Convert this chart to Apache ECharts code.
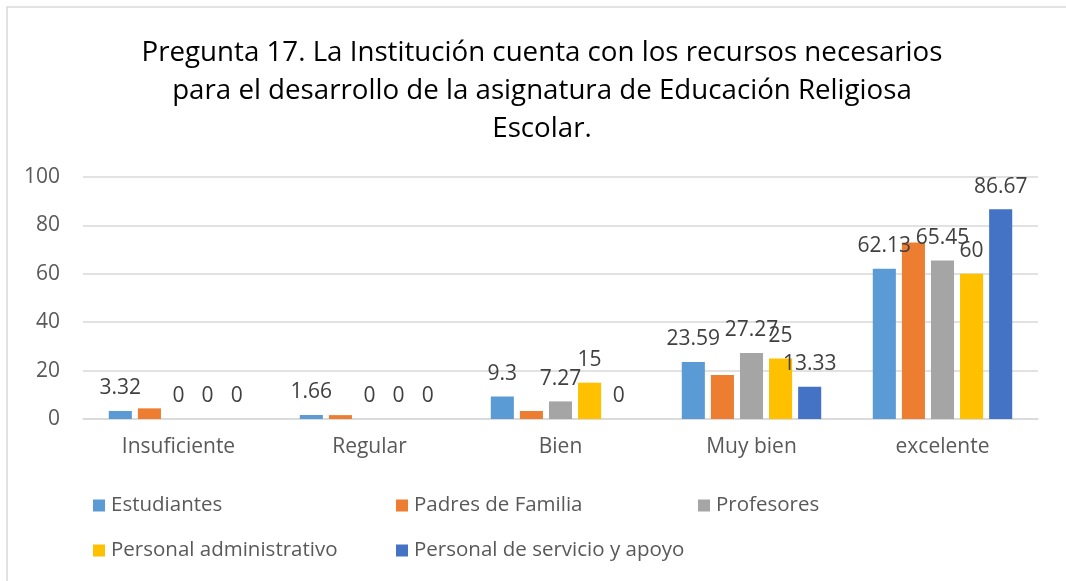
<!DOCTYPE html>
<html>
<head>
<meta charset="utf-8">
<script src="https://cdn.jsdelivr.net/npm/echarts@6/dist/echarts.min.js"></script>
<style>html,body{margin:0;padding:0;background:#fff}#c{width:1066px;height:581px}</style>
</head>
<body>
<div id="c"></div>
<script>
const categories = ['Insuficiente', 'Regular', 'Bien', 'Muy bien', 'excelente'];
const seriesNames = ['Estudiantes', 'Padres de Familia', 'Profesores', 'Personal administrativo', 'Personal de servicio y apoyo'];
const estudiantes = [3.32, 1.66, 9.3, 23.59, 62.13];
const padres = [4.4, 1.6, 3.3, 18.2, 72.9];
const profesores = [0, 0, 7.27, 27.27, 65.45];
const administrativo = [0, 0, 15, 25, 60];
const servicio = [0, 0, 0, 13.33, 86.67];
const yTicks = [0, 20, 40, 60, 80, 100];
const colors = ['#5B9BD5', '#ED7D31', '#A5A5A5', '#FFC000', '#4472C4'];
const showLabels = [true, false, true, true, true];
const values = [estudiantes, padres, profesores, administrativo, servicio];

const FONT = 'Open Sans';
const chart = echarts.init(document.getElementById('c'), null, {renderer: 'canvas'});

const legendPos = [
  {left: 88, top: 490}, {left: 391, top: 490}, {left: 693, top: 490},
  {left: 88, top: 535}, {left: 391, top: 535}
];

const option = {
  animation: false,
  color: colors,
  textStyle: {fontFamily: FONT},
  graphic: [{
    type: 'rect', shape: {x: 7, y: 7, width: 1070, height: 580},
    style: {fill: 'none', stroke: '#D9D9D9', lineWidth: 1.5}, silent: true
  }],
  title: {
    text: 'Pregunta 17. La Institución cuenta con los recursos necesarios\npara el desarrollo de la asignatura de Educación Religiosa\nEscolar.',
    left: 537, top: 29, textAlign: 'center',
    textStyle: {fontFamily: FONT, fontSize: 27.7, fontWeight: 'normal', color: '#000', lineHeight: 38}
  },
  legend: seriesNames.map((n, i) => ({
    data: [n], left: legendPos[i].left, top: legendPos[i].top,
    icon: 'rect', itemWidth: 12, itemHeight: 12, itemGap: 0,
    textStyle: {fontFamily: FONT, fontSize: 20.5, color: '#595959', padding: [0, 0, 0, 1]}
  })),
  grid: {left: 83, right: 28, top: 177, bottom: 162, containLabel: false},
  xAxis: {
    type: 'category', data: categories,
    axisLine: {lineStyle: {color: '#D9D9D9', width: 1.5}},
    axisTick: {show: false},
    axisLabel: {fontFamily: FONT, fontSize: 21, color: '#595959', margin: 18}
  },
  yAxis: {
    type: 'value', min: 0, max: 100, interval: 20,
    axisLine: {show: false}, axisTick: {show: false},
    splitLine: {lineStyle: {color: '#D9D9D9', width: 1.5}},
    axisLabel: {fontFamily: FONT, fontSize: 21, color: '#595959', margin: 23,
      formatter: v => yTicks.includes(v) ? String(v) : ''}
  },
  series: seriesNames.map((n, i) => ({
    name: n, type: 'bar', data: values[i],
    barGap: '26%', barCategoryGap: '27%',
    itemStyle: {color: colors[i]},
    label: {show: showLabels[i], position: 'top', distance: 12,
      fontFamily: FONT, fontSize: 21, color: '#404040'}
  }))
};
chart.setOption(option);
</script>
</body>
</html>
